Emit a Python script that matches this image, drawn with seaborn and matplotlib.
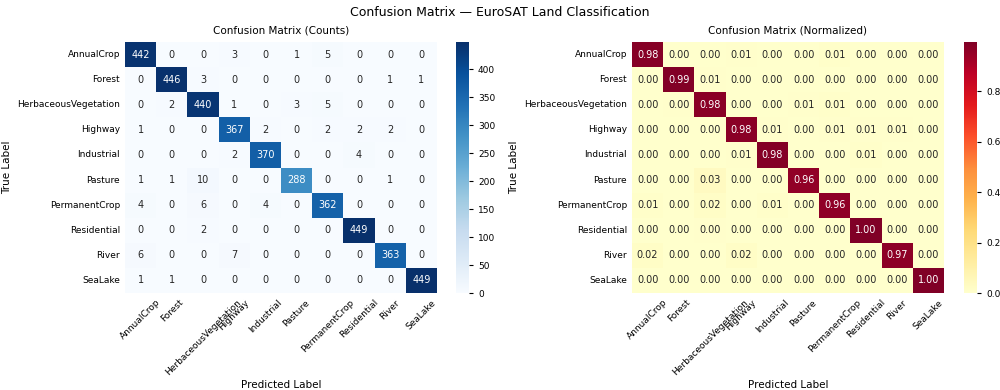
import numpy as np
import seaborn as sns
import matplotlib
matplotlib.use("Agg")
import matplotlib.pyplot as plt

# EuroSAT class names
classes = ["AnnualCrop", "Forest", "HerbaceousVegetation", "Highway", "Industrial",
           "Pasture", "PermanentCrop", "Residential", "River", "SeaLake"]

# confusion matrix counts (rows = true, cols = predicted)
row_annualcrop = [442, 0, 0, 3, 0, 1, 5, 0, 0, 0]
row_forest = [0, 446, 3, 0, 0, 0, 0, 0, 1, 1]
row_herbaceous = [0, 2, 440, 1, 0, 3, 5, 0, 0, 0]
row_highway = [1, 0, 0, 367, 2, 0, 2, 2, 2, 0]
row_industrial = [0, 0, 0, 2, 370, 0, 0, 4, 0, 0]
row_pasture = [1, 1, 10, 0, 0, 288, 0, 0, 1, 0]
row_permanentcrop = [4, 0, 6, 0, 4, 0, 362, 0, 0, 0]
row_residential = [0, 0, 2, 0, 0, 0, 0, 449, 0, 0]
row_river = [6, 0, 0, 7, 0, 0, 0, 0, 363, 0]
row_sealake = [1, 1, 0, 0, 0, 0, 0, 0, 0, 449]

cm = np.array([row_annualcrop, row_forest, row_herbaceous, row_highway, row_industrial,
               row_pasture, row_permanentcrop, row_residential, row_river, row_sealake])
cm_norm = cm / cm.sum(axis=1, keepdims=True)

plt.rcParams["font.family"] = ["DejaVu Sans"]

fig = plt.figure(figsize=(10, 3.9), dpi=100)
ax1 = fig.add_axes([0.125, 0.2487, 0.312, 0.6436])
cax1 = fig.add_axes([0.456, 0.2487, 0.013, 0.6436])
ax2 = fig.add_axes([0.632, 0.2487, 0.312, 0.6436])
cax2 = fig.add_axes([0.964, 0.2487, 0.013, 0.6436])

sns.heatmap(cm, annot=True, fmt="d", cmap="Blues", xticklabels=classes, yticklabels=classes,
            ax=ax1, cbar_ax=cax1, annot_kws={"size": 7})
sns.heatmap(cm_norm, annot=True, fmt=".2f", cmap="YlOrRd", xticklabels=classes, yticklabels=classes,
            ax=ax2, cbar_ax=cax2, annot_kws={"size": 7})

for ax, title in [(ax1, "Confusion Matrix (Counts)"), (ax2, "Confusion Matrix (Normalized)")]:
    ax.set_title(title, fontsize=7.5)
    ax.set_xlabel("Predicted Label", fontsize=7.5, labelpad=2)
    ax.set_ylabel("True Label", fontsize=7.5)
    ax.set_xticklabels(ax.get_xticklabels(), rotation=45, ha="center", fontsize=6.5)
    ax.set_yticklabels(ax.get_yticklabels(), rotation=0, fontsize=6.5)
    ax.tick_params(length=0)

for cax in (cax1, cax2):
    cax.tick_params(labelsize=6.5, length=3)

fig.suptitle("Confusion Matrix — EuroSAT Land Classification", fontsize=9, y=0.985)

fig.savefig("out.png", dpi=100)
